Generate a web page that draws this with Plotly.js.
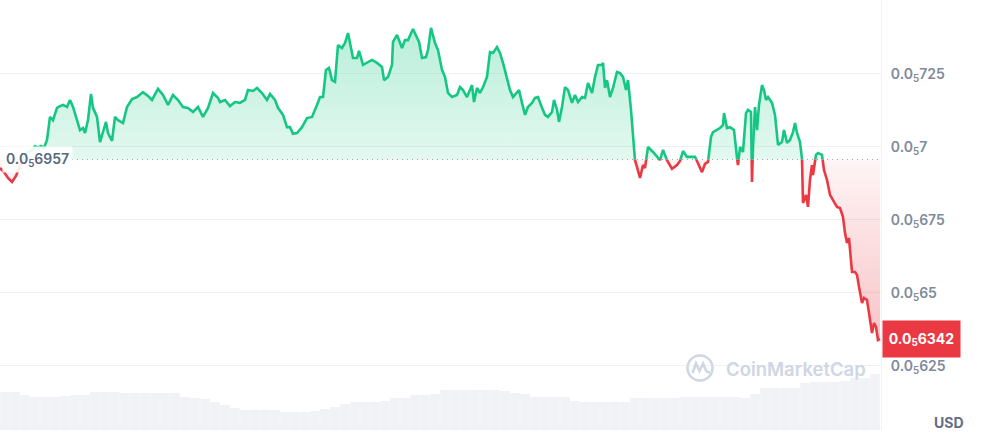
<!DOCTYPE html>
<html><head><meta charset="utf-8">
<script src="https://cdn.plot.ly/plotly-3.0.1.min.js"></script>
<style>html,body{margin:0;padding:0;background:#fff}#chart{width:999px;height:438px}</style>
</head><body><div id="chart"></div>
<script>
// time in minutes from window start
const minutes = [0,4,8,12,16,20,24,28,32,35,38,41,44,47,50,53,57,60,63,67,70,73,77,80,83,85,88,91,93,97,100,103,106,108,112,115,118,123,127,132,137,143,148,152,158,163,168,173,178,183,188,193,198,203,208,213,218,220,225,230,235,240,245,248,253,257,262,267,270,275,278,283,287,290,293,297,302,307,312,317,320,323,326,329,332,335,338,342,345,348,351,353,357,359,363,367,372,377,382,384,388,392,393,397,402,405,408,413,417,419,422,426,428,431,435,438,442,445,448,452,457,460,463,467,472,474,477,480,483,487,490,493,497,500,503,507,510,513,517,519,522,525,528,532,535,538,542,545,548,552,554,557,559,562,565,568,572,575,578,582,585,588,592,595,598,602,603,605,607,610,613,617,620,623,626,628,631,633,635,637,640,643,645,648,653,658,660,663,667,672,677,680,683,687,692,695,698,702,705,708,711,713,717,720,723,724,727,730,734,737,738,740,743,746,748,751,752,753,755,757,759,762,764,766,768,772,775,777,778,782,784,787,790,793,795,797,800,802,803,806,808,810,812,813,816,818,822,824,827,830,834,837,840,843,845,847,849,852,855,857,859,862,864,867,869,872,874,876,878,880];
// price in units of 1e-6 USD (0.0₅725 = 7.25e-6)
const price = [6.928,6.914,6.894,6.880,6.901,6.938,6.966,6.983,6.990,7.003,6.997,7.003,6.997,7.024,7.103,7.092,7.134,7.140,7.144,7.137,7.161,7.137,7.092,7.058,7.065,7.048,7.092,7.182,7.134,7.103,7.017,7.051,7.086,7.048,7.021,7.103,7.092,7.082,7.137,7.164,7.171,7.188,7.175,7.161,7.199,7.178,7.144,7.178,7.161,7.137,7.134,7.120,7.137,7.103,7.134,7.185,7.168,7.154,7.161,7.140,7.154,7.151,7.161,7.195,7.192,7.202,7.185,7.161,7.182,7.161,7.134,7.110,7.068,7.068,7.045,7.048,7.068,7.099,7.103,7.144,7.171,7.171,7.264,7.271,7.229,7.223,7.349,7.339,7.356,7.390,7.339,7.305,7.305,7.329,7.281,7.288,7.298,7.288,7.274,7.229,7.240,7.281,7.360,7.384,7.339,7.366,7.366,7.404,7.377,7.360,7.305,7.308,7.332,7.408,7.356,7.332,7.264,7.240,7.185,7.171,7.178,7.205,7.195,7.171,7.212,7.154,7.202,7.185,7.205,7.240,7.325,7.322,7.342,7.322,7.288,7.229,7.195,7.171,7.188,7.195,7.151,7.110,7.137,7.151,7.168,7.171,7.134,7.110,7.103,7.120,7.161,7.127,7.086,7.137,7.205,7.195,7.151,7.178,7.154,7.171,7.168,7.219,7.185,7.240,7.281,7.281,7.288,7.202,7.229,7.171,7.202,7.257,7.253,7.240,7.195,7.229,7.127,7.024,6.955,6.932,6.894,6.938,6.928,7.000,6.983,6.966,6.955,6.990,6.955,6.925,6.938,6.952,6.986,6.966,6.966,6.966,6.945,6.914,6.942,6.949,7.034,7.051,7.058,7.065,7.075,7.116,7.065,7.068,7.058,6.962,6.938,7.000,6.983,7.116,7.127,7.120,6.880,7.000,7.137,7.058,7.144,7.212,7.195,7.161,7.171,7.151,7.110,7.048,7.007,7.017,7.058,7.014,7.024,7.051,7.082,7.048,7.017,6.959,6.808,6.836,6.795,6.887,6.938,6.904,6.973,6.979,6.973,6.921,6.887,6.836,6.812,6.795,6.791,6.760,6.705,6.671,6.688,6.572,6.572,6.562,6.521,6.466,6.483,6.476,6.432,6.363,6.397,6.384,6.339,6.342];
// rolling volume (arbitrary units), one value per 10-minute bucket
const volume = [38,38,35,33,33,33,34,35,35,38,38,38,37,37,37,37,37,37,33,32,31,28,25,22,20,20,20,20,18,18,18,19,21,23,26,28,28,28,29,32,32,35,35,36,40,40,40,40,40,40,39,37,36,33,33,33,33,29,28,28,28,28,28,32,32,32,32,32,33,33,33,33,33,33,32,36,42,42,42,42,47,48,48,48,49,52,52,56];
const openPrice = 6.957;
const lastPrice = 6.342;
const tickVals = [6.25, 6.5, 6.75, 7.0, 7.25, 7.5];
const tickText = ['0.0<sub>5</sub>625','0.0<sub>5</sub>65','0.0<sub>5</sub>675','0.0<sub>5</sub>7','0.0<sub>5</sub>725',''];
const openLabel = '0.0<sub>5</sub>6957';
const lastLabel = '<b>0.0<sub>5</sub>6342</b>';

const GREEN = '#16c784', RED = '#ea3943';

// insert crossing points at the open price
const T = [], V = [];
for (let i = 0; i < minutes.length; i++) {
  T.push(minutes[i]); V.push(price[i]);
  if (i < minutes.length - 1) {
    const a = price[i] - openPrice, b = price[i + 1] - openPrice;
    if (a * b < 0) {
      const f = a / (a - b);
      T.push(minutes[i] + f * (minutes[i + 1] - minutes[i]));
      V.push(openPrice);
    }
  }
}
const up = V.map(v => Math.max(v, openPrice));
const dn = V.map(v => Math.min(v, openPrice));
const upLine = V.map(v => v >= openPrice ? v : null);
const dnLine = V.map(v => v <= openPrice ? v : null);
const baseArr = T.map(() => openPrice);
const volT = volume.map((_, i) => 5 + 10 * i);
const maxP = Math.max(...price), minP = Math.min(...price);

const traces = [
  {type:'bar', x: volT, y: volume, yaxis:'y2', marker:{color:'#f0f2f6', line:{width:0}}, hoverinfo:'skip'},
  {type:'scatter', mode:'lines', x:T, y:baseArr, line:{width:0, color:'rgba(0,0,0,0)'}, hoverinfo:'skip'},
  {type:'scatter', mode:'lines', x:T, y:up, fill:'tonexty', line:{width:0, color:'rgba(0,0,0,0)'},
   fillcolor:'rgba(22,199,132,0.2)',
   fillgradient:{type:'vertical', start:openPrice, stop:maxP, colorscale:[[0,'rgba(22,199,132,0.12)'],[1,'rgba(22,199,132,0.30)']]}, hoverinfo:'skip'},
  {type:'scatter', mode:'lines', x:T, y:baseArr, line:{width:0, color:'rgba(0,0,0,0)'}, hoverinfo:'skip'},
  {type:'scatter', mode:'lines', x:T, y:dn, fill:'tonexty', line:{width:0, color:'rgba(0,0,0,0)'},
   fillcolor:'rgba(234,57,67,0.15)',
   fillgradient:{type:'vertical', start:minP, stop:openPrice, colorscale:[[0,'rgba(234,57,67,0.30)'],[1,'rgba(234,57,67,0.05)']]}, hoverinfo:'skip'},
  {type:'scatter', mode:'lines', x:T, y:upLine, line:{width:2.6, color:GREEN}, connectgaps:false, hoverinfo:'skip'},
  {type:'scatter', mode:'lines', x:T, y:dnLine, line:{width:2.6, color:RED}, connectgaps:false, hoverinfo:'skip'}
];

const plotH = 430;
const yTop = 7.5034, yBot = 6.0308;
function pyToVal(py){ return yTop - py / plotH * (yTop - yBot); }

const layout = {
  width: 999, height: 438,
  margin: {l:0, r:118, t:0, b:8, pad:0},
  paper_bgcolor:'#ffffff', plot_bgcolor:'#ffffff',
  showlegend:false,
  bargap: 0.04,
  font:{family:'Inter, "Open Sans", sans-serif'},
  xaxis:{range:[0,881], showgrid:false, zeroline:false, showticklabels:false, showline:false, ticks:'', fixedrange:true},
  yaxis:{range:[yBot,yTop], side:'right', tickvals:tickVals, ticktext:tickText, showgrid:true, gridcolor:'#eff2f5', gridwidth:1,
         zeroline:false, showline:true, linecolor:'#eff2f5', linewidth:1, ticks:'', ticklabelstandoff:6,
         tickfont:{size:14, color:'#808a9d', weight:600}},
  yaxis2:{overlaying:'y', range:[0,430], visible:false, showgrid:false, zeroline:false},
  shapes:[
    {type:'line', xref:'x', yref:'y', x0:72, x1:881, y0:openPrice, y1:openPrice, line:{color:'#9aa3b4', width:1, dash:'1px,4px'}},
    {type:'circle', xref:'x', yref:'y', xsizemode:'pixel', ysizemode:'pixel', xanchor:700, yanchor:pyToVal(368),
     x0:-12.5, x1:12.5, y0:-12.5, y1:12.5, line:{color:'#cfd6e4', width:2.6}, layer:'above'},
    {type:'path', xref:'x', yref:'y', xsizemode:'pixel', ysizemode:'pixel', xanchor:700, yanchor:pyToVal(368),
     path:'M -7.5,-5 L -4,4.5 L -0.5,-3 L 3,4.5 L 6,-2.5 Q 7.5,-5 10,-4', line:{color:'#cfd6e4', width:2.6}, layer:'above'}
  ],
  annotations:[
    {xref:'paper', yref:'y', x:0, y:openPrice, xanchor:'left', yanchor:'middle', text:openLabel, showarrow:false,
     font:{size:14, color:'#58667e', weight:600}, bgcolor:'rgba(255,255,255,0.9)', borderpad:3, xshift:2},
    {xref:'paper', yref:'y', x:1, y:lastPrice, xanchor:'left', yanchor:'middle', text:lastLabel, showarrow:false,
     font:{size:14, color:'#ffffff'}, bgcolor:RED, width:69, height:28, borderpad:4, xshift:1, align:'center'},
    {xref:'paper', yref:'paper', x:949/881, y:(430-422)/430, xanchor:'center', yanchor:'middle', text:'<b>USD</b>', showarrow:false,
     font:{size:14, color:'#616e85'}},
    {xref:'x', yref:'y', x:724, y:pyToVal(369), xanchor:'left', yanchor:'middle', text:'CoinMarketCap', showarrow:false,
     font:{size:18.5, color:'#cfd6e4', weight:600}}
  ]
};

Plotly.newPlot('chart', traces, layout, {staticPlot:true, displayModeBar:false});
</script>
</body></html>
